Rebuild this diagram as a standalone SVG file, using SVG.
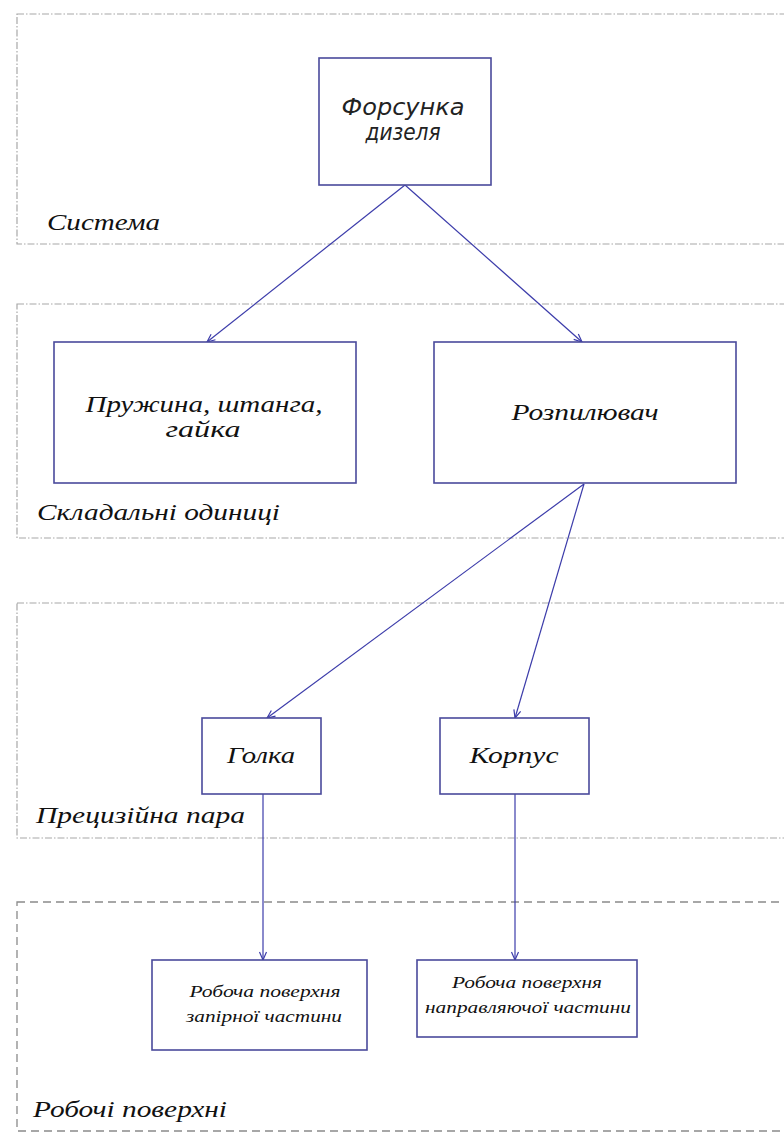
<svg xmlns="http://www.w3.org/2000/svg" width="784" height="1133" viewBox="0 0 784 1133">
<style>
.sec{fill:none;stroke:#a8a8a8;stroke-width:1.2;stroke-dasharray:7,2,1.5,2}
.sec4{fill:none;stroke:#8a8a8a;stroke-width:1.3;stroke-dasharray:8,5}
.box{fill:#fff;stroke:#4a4a9c;stroke-width:1.6}
.con{fill:none;stroke:#3c3caa;stroke-width:1.2}
.t{font-family:"Liberation Serif",serif;font-style:italic;fill:#111;text-anchor:middle}
.lbl{font-family:"Liberation Serif",serif;font-style:italic;fill:#111;font-size:24px}
.g{font-family:"DejaVu Sans",sans-serif;font-style:italic;fill:#222;font-size:23px;text-anchor:middle}
</style>
<defs>
<marker id="arr" markerWidth="10" markerHeight="10" refX="9" refY="5" orient="auto" markerUnits="userSpaceOnUse">
<path d="M1,1.5 L9,5 L1,8.5" fill="none" stroke="#3c3caa" stroke-width="1.2"/>
</marker>
</defs>
<rect width="784" height="1133" fill="#fff"/>
<g id="sections">
<rect class="sec" x="17" y="14" width="800" height="230"/>
<rect class="sec" x="17" y="304" width="800" height="234"/>
<rect class="sec" x="17" y="603" width="800" height="235"/>
<rect class="sec4" x="17" y="902" width="800" height="229"/>
<text class="lbl" x="47" y="230" textLength="113" lengthAdjust="spacingAndGlyphs">Система</text>
<text class="lbl" x="37" y="520" textLength="243" lengthAdjust="spacingAndGlyphs">Складальні одиниці</text>
<text class="lbl" x="36" y="823" textLength="209" lengthAdjust="spacingAndGlyphs">Прецизійна пара</text>
<text class="lbl" x="33" y="1117" textLength="194" lengthAdjust="spacingAndGlyphs">Робочі поверхні</text>
</g>
<g id="connectors">
<line class="con" x1="405" y1="185" x2="207" y2="342" marker-end="url(#arr)"/>
<line class="con" x1="405" y1="185" x2="582" y2="342" marker-end="url(#arr)"/>
<line class="con" x1="584" y1="484" x2="267" y2="718" marker-end="url(#arr)"/>
<line class="con" x1="584" y1="484" x2="515" y2="718" marker-end="url(#arr)"/>
<line class="con" x1="263" y1="794" x2="263" y2="960" marker-end="url(#arr)"/>
<line class="con" x1="515" y1="794" x2="515" y2="960" marker-end="url(#arr)"/>
</g>
<g id="n-forsunka">
<rect class="box" x="319" y="58" width="172" height="127"/>
<text class="g" x="403" y="115" textLength="123" lengthAdjust="spacingAndGlyphs">Форсунка</text>
<text class="g" x="403" y="140" textLength="75" lengthAdjust="spacingAndGlyphs">дизеля</text>
</g>
<g id="n-pruzhyna">
<rect class="box" x="54" y="342" width="302" height="141"/>
<text class="t" font-size="23" x="204" y="412" textLength="237" lengthAdjust="spacingAndGlyphs">Пружина, штанга,</text>
<text class="t" font-size="23" x="203" y="437" textLength="75" lengthAdjust="spacingAndGlyphs">гайка</text>
</g>
<g id="n-rozpyliuvach">
<rect class="box" x="434" y="342" width="302" height="141"/>
<text class="t" font-size="23" x="585" y="420" textLength="147" lengthAdjust="spacingAndGlyphs">Розпилювач</text>
</g>
<g id="n-holka">
<rect class="box" x="202" y="718" width="119" height="76"/>
<text class="t" font-size="23" x="261" y="763" textLength="68" lengthAdjust="spacingAndGlyphs">Голка</text>
</g>
<g id="n-korpus">
<rect class="box" x="440" y="718" width="149" height="76"/>
<text class="t" font-size="23" x="514" y="763" textLength="89" lengthAdjust="spacingAndGlyphs">Корпус</text>
</g>
<g id="n-zapirna">
<rect class="box" x="152" y="960" width="215" height="90"/>
<text class="t" font-size="16" x="265" y="997" textLength="151" lengthAdjust="spacingAndGlyphs">Робоча поверхня</text>
<text class="t" font-size="16" x="264" y="1022" textLength="156" lengthAdjust="spacingAndGlyphs">запірної частини</text>
</g>
<g id="n-napravl">
<rect class="box" x="417" y="960" width="220" height="77"/>
<text class="t" font-size="16" x="527" y="988" textLength="150" lengthAdjust="spacingAndGlyphs">Робоча поверхня</text>
<text class="t" font-size="16" x="528" y="1013" textLength="206" lengthAdjust="spacingAndGlyphs">направляючої частини</text>
</g>
</svg>
